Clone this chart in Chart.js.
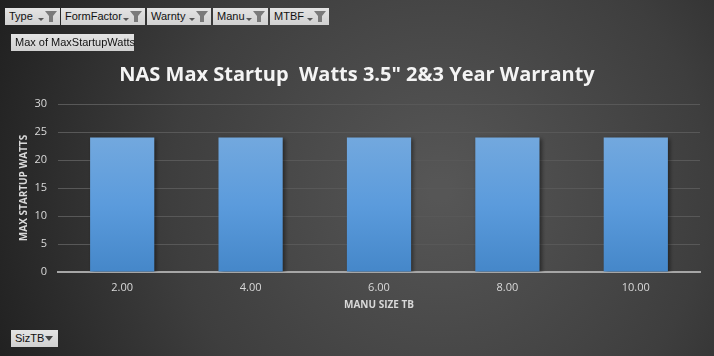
<!DOCTYPE html>
<html>
<head>
<meta charset="utf-8">
<script src="https://cdn.jsdelivr.net/npm/chart.js@4.4.1/dist/chart.umd.min.js"></script>
<style>
  html, body { margin: 0; padding: 0; background: #2a2a2a; }
  #wrap { position: relative; width: 714px; height: 356px; overflow: hidden; }
  canvas { position: absolute; left: 0; top: 0; }
  .btn { position: absolute; height: 17px; background: linear-gradient(#e4e4e4, #d0d0d0);
         font-family: "Liberation Sans", Arial, sans-serif; font-size: 11px; color: #111;
         line-height: 17px; box-sizing: border-box; padding-left: 4px; white-space: nowrap; }
  .btn svg { position: absolute; top: 3px; }
</style>
</head>
<body>
<div id="wrap">
  <canvas id="c" width="714" height="356"></canvas>
</div>
<script>
const categories = ["2.00", "4.00", "6.00", "8.00", "10.00"];
const maxStartupWatts = [24, 24, 24, 24, 24];
const yTicks = [0, 5, 10, 15, 20, 25, 30];
const filterButtons = ["Type", "FormFactor", "Warnty", "Manu", "MTBF"];
const chartTitle = 'NAS Max Startup  Watts 3.5" 2&3 Year Warranty';
const yTitle = "MAX STARTUP WATTS";
const xTitle = "MANU SIZE TB";
const valueField = "Max of MaxStartupWatts";
const axisField = "SizTB";

// overlay field buttons (pivot chart UI)
const wrap = document.getElementById('wrap');
const btnPos = [[5, 55], [61, 84], [147, 64], [213, 55], [270, 59]];
const funnel = '<svg width="20" height="12" viewBox="0 0 20 12"><path d="M0 7 L6 7 L3 10 Z" fill="#555"/><path d="M7 0 L19 0 L15 5 L15 11 L11 11 L11 5 Z" fill="#7a7a7a"/></svg>';
filterButtons.forEach((t, i) => {
  const d = document.createElement('div');
  d.className = 'btn';
  d.style.left = btnPos[i][0] + 'px'; d.style.top = '8px'; d.style.width = btnPos[i][1] + 'px';
  d.innerHTML = t + funnel.replace('<svg', '<svg style="right:2px"');
  wrap.appendChild(d);
});
const vb = document.createElement('div');
vb.className = 'btn'; vb.style.left = '11px'; vb.style.top = '34px'; vb.style.width = '123px';
vb.textContent = valueField; wrap.appendChild(vb);
const ab = document.createElement('div');
ab.className = 'btn'; ab.style.left = '11px'; ab.style.top = '330px'; ab.style.width = '47px';
ab.innerHTML = axisField + '<svg style="right:5px;top:6px" width="8" height="5" viewBox="0 0 8 5"><path d="M0 0 L8 0 L4 5 Z" fill="#444"/></svg>';
wrap.appendChild(ab);

const bgPlugin = {
  id: 'bg',
  beforeDraw(chart) {
    const ctx = chart.ctx;
    const g = ctx.createRadialGradient(440, 190, 10, 440, 190, 480);
    g.addColorStop(0, '#565656');
    g.addColorStop(0.55, '#3e3e3e');
    g.addColorStop(1, '#202020');
    ctx.save();
    ctx.fillStyle = g;
    ctx.fillRect(0, 0, chart.width, chart.height);
    ctx.restore();
  },
  beforeDatasetsDraw(chart) {
    const ctx = chart.ctx;
    ctx.save();
    ctx.shadowColor = 'rgba(0,0,0,0.45)';
    ctx.shadowBlur = 4;
    ctx.shadowOffsetX = 2;
    ctx.shadowOffsetY = 1;
  },
  afterDatasetsDraw(chart) { chart.ctx.restore(); }
};

const ctx = document.getElementById('c').getContext('2d');
const barGrad = ctx.createLinearGradient(0, 139, 0, 272);
barGrad.addColorStop(0, '#72a8de');
barGrad.addColorStop(0.5, '#5b9bdc');
barGrad.addColorStop(1, '#4587c9');

new Chart(ctx, {
  type: 'bar',
  data: {
    labels: categories,
    datasets: [{
      data: maxStartupWatts,
      backgroundColor: barGrad,
      borderWidth: 0,
      categoryPercentage: 1,
      barPercentage: 0.5
    }]
  },
  options: {
    responsive: false,
    animation: false,
    devicePixelRatio: 1,
    layout: { padding: { left: 14, right: 14, top: 50, bottom: 45 } },
    plugins: {
      legend: { display: false },
      tooltip: { enabled: false },
      title: {
        display: true,
        text: chartTitle,
        color: '#f4f4f4',
        font: { family: 'Open Sans', size: 20, weight: 'bold' },
        padding: { top: 13, bottom: 17 }
      }
    },
    scales: {
      x: {
        grid: { display: false, drawTicks: false },
        border: { color: '#a6a6a6', width: 2 },
        ticks: { color: '#d9d9d9', font: { family: 'Open Sans', size: 11 }, padding: 9 },
        title: { display: true, text: xTitle, color: '#d9d9d9', font: { family: 'Open Sans', size: 10, weight: 'bold' }, padding: { top: 0, bottom: 0 } },
        afterFit(s) { s.height = 39; }
      },
      y: {
        min: 0, max: 30,
        afterBuildTicks(s) { s.ticks = yTicks.map(v => ({ value: v })); },
        grid: { color: '#585858', lineWidth: 1, drawTicks: false },
        border: { display: false },
        ticks: { color: '#d9d9d9', font: { family: 'Open Sans', size: 11 }, padding: 11 },
        title: { display: true, text: yTitle, color: '#d9d9d9', font: { family: 'Open Sans', size: 10, weight: 'bold' }, padding: { top: 4, bottom: 0 } },
        afterFit(s) { s.width = 44; }
      }
    }
  },
  plugins: [bgPlugin]
});
</script>
</body>
</html>
